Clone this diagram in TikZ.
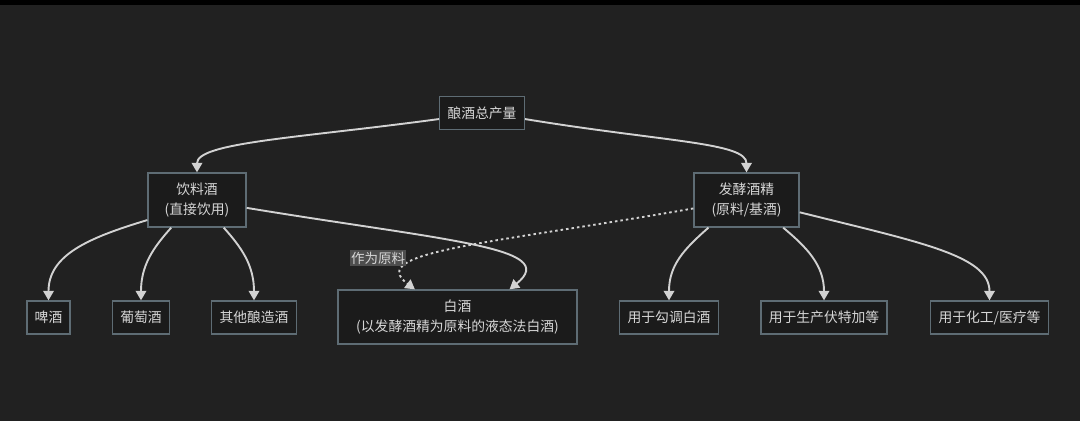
\documentclass[tikz,border=0pt]{standalone}
\usepackage{fontspec}
\newfontfamily\cjk{Noto Sans CJK SC}
\usetikzlibrary{arrows.meta}
\definecolor{bgcol}{HTML}{212121}
\definecolor{boxfill}{HTML}{1B1B1B}
\definecolor{boxline}{HTML}{5E6C74}
\definecolor{txtcol}{HTML}{D6D6D6}
\definecolor{linecol}{HTML}{D2D2D2}
\definecolor{lblfill}{HTML}{4E4E4E}
\begin{document}
\begin{tikzpicture}[x=1pt,y=1pt,
  box/.style={draw=boxline, fill=boxfill, line width=1.3pt, text=txtcol, align=center,
    inner xsep=7.8pt, inner ysep=0pt, minimum height=33pt, font=\cjk\fontsize{13.8}{20}\selectfont},
  flow/.style={draw=linecol, line width=1.9pt, ->},
  rawflow/.style={flow, dash pattern=on 2.5pt off 3pt},
  lbl/.style={fill=lblfill, text=txtcol, inner xsep=1pt, inner ysep=1.5pt, font=\cjk\fontsize{13.5}{15}\selectfont},
  >={Triangle[length=9.5pt,width=10.5pt]}]
\fill[bgcol] (0,0) rectangle (1080,-421);
\fill[black] (0,0) rectangle (1080,-5);
\useasboundingbox (0,0) rectangle (1080,-421);
% top level
\node[box] (total) at (482,-113) {酿酒总产量};
\node[box, minimum width=98pt, minimum height=54pt] (drink) at (197,-200) {饮料酒\\(直接饮用)};
\node[box, minimum width=105pt, minimum height=54pt] (ferment) at (746.5,-200) {发酵酒精\\(原料/基酒)};
% bottom row
\node[box] (beer) at (48.5,-317.5) {啤酒};
\node[box] (wine) at (141,-317.5) {葡萄酒};
\node[box] (other) at (254,-317.5) {其他酿造酒};
\node[box, minimum width=239pt, minimum height=54pt] (baijiu) at (457.5,-317) {白酒\\(以发酵酒精为原料的液态法白酒)};
\node[box] (blend) at (669,-317.5) {用于勾调白酒};
\node[box] (vodka) at (824,-317.5) {用于生产伏特加等};
\node[box] (chem) at (989.5,-317.5) {用于化工/医疗等};
% connectors
\draw[flow] (total.188) .. controls +(-140,-19) and +(0,30) .. (drink.north);
\draw[flow] (total.-8) .. controls +(140,-23) and +(0,30) .. (ferment.north);
\draw[flow] (drink.202) .. controls +(-60,-18) and +(0,45) .. (beer.north);
\draw[flow] (drink.227) .. controls +(-18,-20) and +(0,35) .. (wine.north);
\draw[flow] (drink.-46) .. controls +(18,-20) and +(0,35) .. (other.north);
\draw[flow] (drink.-9) .. controls +(200,-33) and +(52,42) .. (baijiu.28);
\draw[rawflow] (ferment.189) .. controls +(-200,-35) and +(-51,38) .. (baijiu.147);
\node[lbl] (rawlbl) at (378,-258) {作为原料};
\draw[flow] (ferment.216) .. controls +(-25,-22) and +(0,35) .. (blend.north);
\draw[flow] (ferment.-37) .. controls +(24,-20) and +(0,35) .. (vodka.north);
\draw[flow] (ferment.-13) .. controls +(120,-30) and +(0,45) .. (chem.north);
\end{tikzpicture}
\end{document}
